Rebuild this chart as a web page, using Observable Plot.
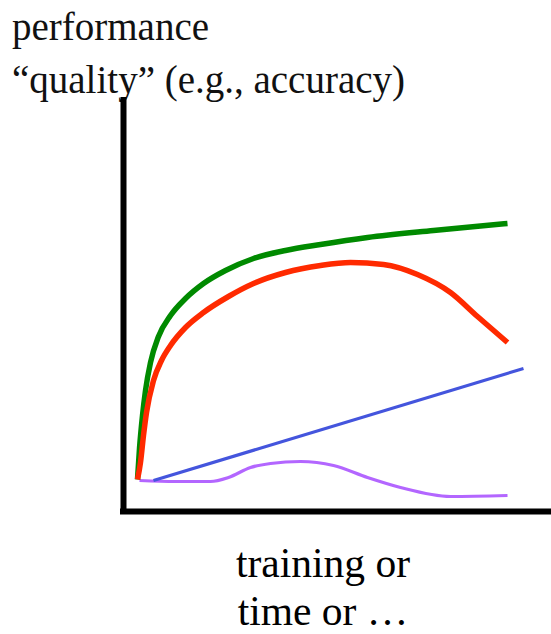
<!DOCTYPE html>
<html>
<head>
<meta charset="utf-8">
<script src="https://cdn.jsdelivr.net/npm/d3@7"></script>
<script src="https://cdn.jsdelivr.net/npm/@observablehq/plot@0.6"></script>
<style>
  html, body { margin: 0; padding: 0; background: #fff; width: 551px; overflow: hidden; }
  .title { height: 95px; padding-left: 12px; font-family: "Liberation Serif", "Times New Roman", Times, "DejaVu Serif", serif; font-size: 39px; line-height: 53px; color: #111; white-space: nowrap; }
  .caption { padding-top: 14px; padding-left: 95px; text-align: center; font-family: "Liberation Serif", "Times New Roman", Times, "DejaVu Serif", serif; font-size: 41.5px; line-height: 48px; color: #000; white-space: nowrap; }
  #chart svg { display: block; }
</style>
</head>
<body>
<div class="title">performance<br>“quality” (e.g., accuracy)</div>
<div id="chart"></div>
<div class="caption">training or<br>time or …</div>
<script>
// x: training / time, y: performance quality (arbitrary units)
const greenX = [3.5, 4, 4.75, 5.5, 6.75, 8.75, 11.75, 15.5, 20, 25.5, 32.5, 40.5, 49.25, 61, 77.5, 96];
const greenY = [8, 15.75, 24, 30.25, 37.25, 43.75, 49, 53.25, 57, 60.25, 63.25, 65.25, 66.75, 68.5, 70.25, 72];

const redX = [3.5, 4.25, 5, 5.75, 7.5, 9.5, 11.75, 15.5, 20, 26.25, 32.5, 40.5, 49.25, 56.75, 65, 73.5, 81.75, 88.5, 96];
const redY = [8, 12.25, 19, 24.75, 32.75, 37.75, 41.5, 46, 49.75, 53.75, 57, 59.75, 61.5, 62.25, 61.75, 59.25, 54.75, 48.75, 42.25];

const blueX = [7.5, 100];
const blueY = [7.75, 35.75];

const purpleX = [4, 13, 21.75, 26.25, 31.75, 36.75, 44.25, 52.5, 61, 69.25, 81.75, 96];
const purpleY = [7.75, 7.5, 7.5, 8.5, 11, 12, 12.5, 11.5, 8.5, 6, 3.75, 4];

const toRows = (xs, ys) => xs.map((x, i) => ({x, y: ys[i]}));

const chart = Plot.plot({
  width: 551,
  height: 430,
  marginLeft: 123,
  marginRight: 28,
  marginTop: 16,
  marginBottom: 14,
  x: {domain: [0, 100], axis: null},
  y: {domain: [0, 100], axis: null},
  marks: [
    Plot.line(toRows(purpleX, purpleY), {x: "x", y: "y", stroke: "#b366ff", strokeWidth: 3.2, curve: "monotone-x", strokeLinecap: "butt"}),
    Plot.line(toRows(blueX, blueY), {x: "x", y: "y", stroke: "#4455dd", strokeWidth: 3.2, strokeLinecap: "butt"}),
    Plot.line(toRows(greenX, greenY), {x: "x", y: "y", stroke: "#008a00", strokeWidth: 5.5, curve: "monotone-x", strokeLinecap: "butt"}),
    Plot.line(toRows(redX, redY), {x: "x", y: "y", stroke: "#ff2a00", strokeWidth: 5.5, curve: "monotone-x", strokeLinecap: "butt"}),
    Plot.ruleX([0], {y1: -0.75, y2: 103.5, stroke: "#000", strokeWidth: 6, strokeLinecap: "butt"}),
    Plot.ruleY([0], {x1: -0.75, x2: 107, stroke: "#000", strokeWidth: 6, strokeLinecap: "butt"})
  ]
});
document.getElementById("chart").appendChild(chart);
</script>
</body>
</html>
